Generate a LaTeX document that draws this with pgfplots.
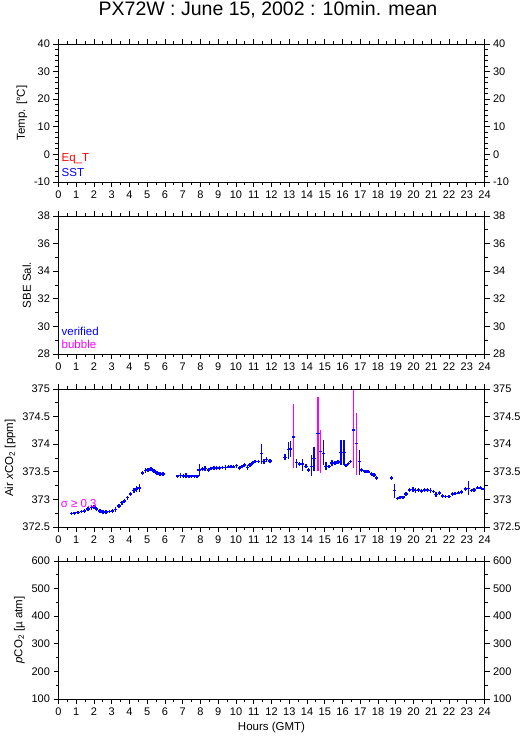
\documentclass[border=0pt]{standalone}
\usepackage{fontspec}
\setmainfont{Liberation Sans}
\usepackage{pgfplots}
\pgfplotsset{compat=1.18}
\usepackage{pgfplotstable}

\definecolor{pblue}{RGB}{0,0,255}
\definecolor{pmag}{RGB}{255,0,255}
\definecolor{pred}{RGB}{255,0,0}

\pgfplotstableread{
x y ep em
0.72 372.74 0.03 0.03
0.91 372.75 0.03 0.03
1.10 372.76 0.03 0.03
1.29 372.78 0.03 0.03
1.47 372.79 0.03 0.03
1.66 372.83 0.04 0.04
1.85 372.85 0.04 0.04
2.00 372.86 0.04 0.04
2.15 372.83 0.04 0.04
2.34 372.79 0.04 0.04
2.51 372.77 0.03 0.03
2.69 372.77 0.03 0.03
2.88 372.78 0.03 0.03
3.03 372.79 0.03 0.03
3.22 372.82 0.04 0.04
3.41 372.88 0.04 0.04
3.58 372.94 0.04 0.04
3.73 372.97 0.04 0.04
3.88 373.03 0.04 0.04
4.06 373.10 0.04 0.04
4.25 373.16 0.05 0.05
4.40 373.19 0.05 0.05
4.55 373.21 0.07 0.08
4.72 373.48 0.04 0.04
4.89 373.52 0.04 0.04
5.04 373.53 0.04 0.04
5.21 373.55 0.04 0.04
5.38 373.51 0.04 0.04
5.55 373.48 0.03 0.03
5.72 373.46 0.03 0.03
5.90 373.46 0.03 0.03
6.71 373.42 0.03 0.03
6.88 373.43 0.04 0.04
7.03 373.42 0.04 0.04
7.18 373.43 0.04 0.04
7.35 373.42 0.03 0.03
7.50 373.42 0.03 0.03
7.65 373.42 0.03 0.03
7.80 373.42 0.03 0.03
7.93 373.53 0.11 0.10
8.10 373.55 0.04 0.04
8.25 373.56 0.04 0.04
8.44 373.53 0.03 0.03
8.59 373.56 0.03 0.03
8.76 373.57 0.03 0.03
8.91 373.57 0.03 0.03
9.06 373.57 0.03 0.03
9.25 373.58 0.03 0.03
9.42 373.58 0.04 0.04
9.57 373.59 0.03 0.03
9.72 373.59 0.03 0.03
9.87 373.59 0.03 0.03
10.02 373.61 0.04 0.04
10.19 373.57 0.03 0.03
10.34 373.60 0.03 0.03
10.49 373.62 0.04 0.04
10.64 373.58 0.04 0.04
10.78 373.62 0.04 0.04
10.93 373.66 0.03 0.03
11.08 373.69 0.03 0.03
11.26 373.69 0.03 0.03
11.43 373.83 0.17 0.19
11.58 373.69 0.04 0.04
11.73 373.72 0.05 0.05
11.92 373.70 0.04 0.04
12.77 373.76 0.06 0.05
12.95 373.90 0.14 0.16
13.07 373.91 0.14 0.15
13.42 373.67 0.06 0.10
13.57 373.64 0.04 0.04
13.74 373.64 0.09 0.12
13.93 373.60 0.04 0.04
14.08 373.53 0.03 0.03
14.25 373.60 0.20 0.18
14.40 373.74 0.21 0.22
14.92 373.83 0.24 0.20
15.07 373.60 0.08 0.06
15.24 373.60 0.03 0.03
15.42 373.66 0.06 0.06
15.59 373.66 0.03 0.03
15.76 373.68 0.03 0.03
15.91 373.85 0.22 0.22
16.08 373.85 0.23 0.23
16.19 373.62 0.03 0.03
16.33 373.65 0.03 0.03
16.46 373.69 0.03 0.03
16.95 373.69 0.20 0.25
17.08 373.53 0.04 0.04
17.27 373.51 0.03 0.03
17.45 373.50 0.03 0.03
17.64 373.46 0.03 0.03
17.77 373.44 0.03 0.03
17.92 373.39 0.03 0.03
18.77 373.39 0.03 0.03
18.92 373.16 0.11 0.13
19.09 373.02 0.03 0.03
19.24 373.03 0.03 0.03
19.41 373.04 0.03 0.03
19.58 373.10 0.04 0.04
19.77 373.17 0.03 0.03
19.96 373.18 0.04 0.04
20.12 373.16 0.04 0.04
20.27 373.17 0.03 0.03
20.46 373.15 0.04 0.04
20.61 373.17 0.04 0.04
20.78 373.17 0.03 0.03
20.97 373.16 0.04 0.04
21.12 373.14 0.03 0.03
21.27 373.09 0.04 0.04
21.46 373.12 0.04 0.04
21.63 373.06 0.03 0.03
21.81 373.05 0.03 0.03
22.00 373.05 0.03 0.03
22.19 373.10 0.04 0.04
22.34 373.11 0.03 0.03
22.53 373.12 0.03 0.03
22.71 373.13 0.04 0.04
22.92 373.19 0.04 0.04
23.09 373.20 0.14 0.12
23.26 373.16 0.03 0.03
23.41 373.17 0.03 0.03
23.60 373.21 0.03 0.03
23.78 373.21 0.03 0.03
23.93 373.19 0.02 0.02
}\verified

\pgfplotstableread{
x y ep em
13.23 374.13 0.60 0.57
14.62 374.19 0.66 0.67
14.76 373.87 0.38 0.40
16.61 374.26 0.72 0.69
16.78 374.01 0.56 0.56
}\bubble

\tikzset{leg/.style={anchor=west, inner sep=0pt, font=\fontsize{11.5}{13}\selectfont}}

\pgfplotsset{
  base/.style={scale only axis, width=426pt, height=138pt, anchor=south west,
    at={(58.5pt,#1)}, xmin=0, xmax=24,
    /pgf/number format/assume math mode=true,
    tick label style={font=\fontsize{11}{13}\selectfont},
    scaled y ticks=false},
  panel/.style={base=#1, xtick={0,...,24}, minor x tick num=1,
    tick align=outside, xtick pos=both, ytick pos=both,
    major tick length=5pt, minor tick length=3pt,
    axis line style={line width=0.9pt},
    every tick/.append style={line width=0.9pt, black},
    label style={font=\fontsize{11.5}{13}\selectfont}},
  rpanel/.style={base=#1, hide x axis, ytick pos=right, yticklabel pos=right,
    y axis line style={draw=none}, ytick style={draw=none},
    tick align=outside, major tick length=5pt, minor y tick num=0},
}

\begin{document}
\begin{tikzpicture}
\useasboundingbox (0,0) rectangle (529pt,739pt);
\node[anchor=base, font=\fontsize{19.5}{22}\selectfont] at (268pt,723pt) {PX72W : June 15, 2002 : 10min. mean};

% Panel 1
\begin{axis}[panel=557pt, ymin=-10, ymax=40, ytick={-10,0,...,40}, minor y tick num=4,
  ylabel={Temp. [°C]}]
\node[leg, text=pred] at (rel axis cs:0.007,0.167) {Eq{\char"5F}T};
\node[leg, text=pblue] at (rel axis cs:0.007,0.065) {SST};
\end{axis}
\begin{axis}[rpanel=557pt, ymin=-10, ymax=40, ytick={-10,0,...,40}]
\end{axis}

% Panel 2
\begin{axis}[panel=385pt, ymin=28, ymax=38, ytick={28,30,...,38}, minor y tick num=1,
  ylabel={SBE Sal.}]
\node[leg, text=pblue] at (rel axis cs:0.007,0.162) {verified};
\node[leg, text=pmag] at (rel axis cs:0.007,0.069) {bubble};
\end{axis}
\begin{axis}[rpanel=385pt, ymin=28, ymax=38, ytick={28,30,...,38}]
\end{axis}

% Panel 3
\begin{axis}[panel=212pt, ymin=372.5, ymax=375, ytick={372.5,373,...,375}, minor y tick num=1,
  ylabel={Air \textit{x}CO\textsubscript{2} [ppm]},
  yticklabel style={/pgf/number format/fixed, /pgf/number format/precision=1}]
\addplot[pmag, draw=none, mark=none,
  error bars/.cd, y dir=both, y explicit, error mark=none,
  error bar style={draw=pmag, color=pmag, line width=1.5pt}]
  table[x=x, y=y, y error plus=ep, y error minus=em] {\bubble};
\addplot[pblue, draw=none, mark=none,
  error bars/.cd, x dir=both, x fixed=0.1, y dir=both, y explicit, error mark=none,
  error bar style={draw=pblue, color=pblue, line width=1.5pt}]
  table[x=x, y=y, y error plus=ep, y error minus=em] {\verified};
\addplot[pblue, draw=none, mark=none,
  error bars/.cd, x dir=both, x fixed=0.1, error mark=none,
  error bar style={draw=pblue, color=pblue, line width=1.5pt}]
  table[x=x, y=y] {\bubble};
\node[leg, text=pmag] at (rel axis cs:0.005,0.167) {σ ≥ 0.3};
\end{axis}
\begin{axis}[rpanel=212pt, ymin=372.5, ymax=375, ytick={372.5,373,...,375},
  yticklabel style={/pgf/number format/fixed, /pgf/number format/precision=1}]
\end{axis}

% Panel 4
\begin{axis}[panel=40pt, ymin=100, ymax=600, ytick={100,200,...,600}, minor y tick num=1,
  ylabel={\textit{p}CO\textsubscript{2} [µ atm]}, xlabel={Hours (GMT)}]
\end{axis}
\begin{axis}[rpanel=40pt, ymin=100, ymax=600, ytick={100,200,...,600}]
\end{axis}
\end{tikzpicture}
\end{document}
